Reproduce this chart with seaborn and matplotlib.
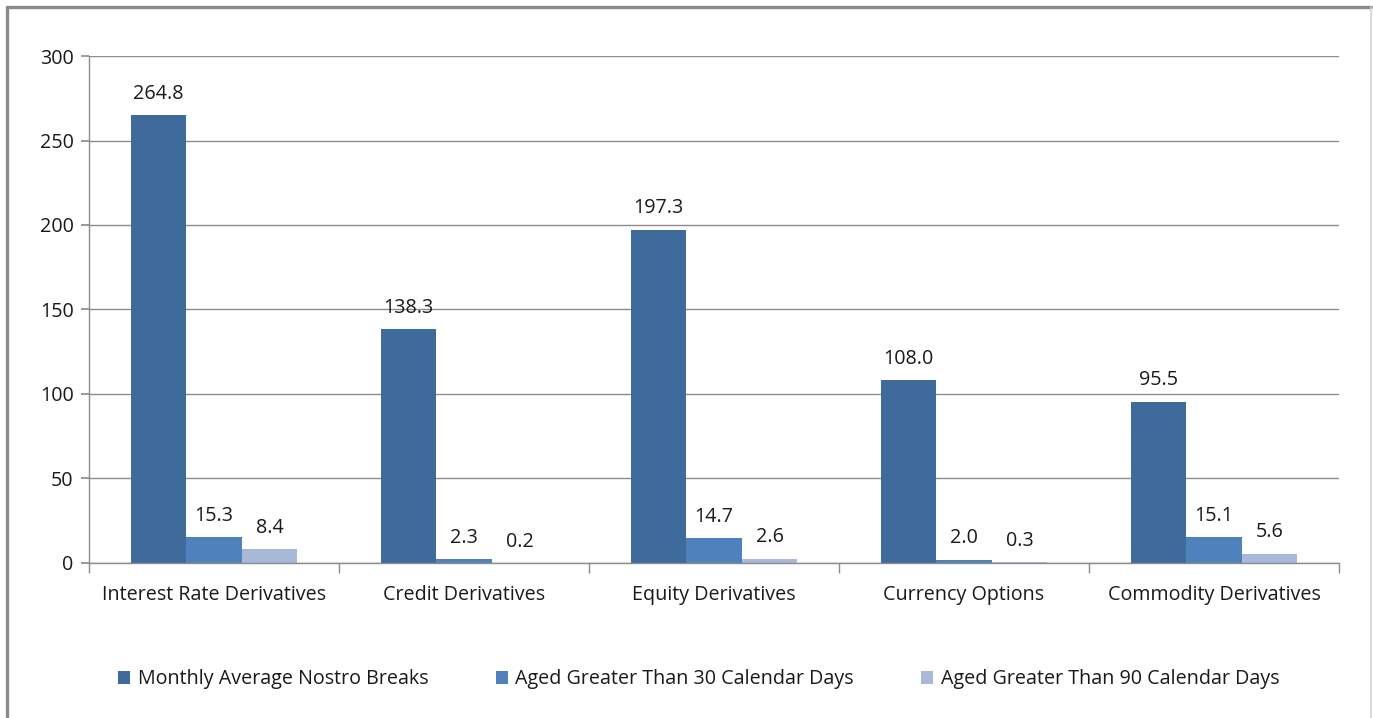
import matplotlib
matplotlib.use("Agg")
import matplotlib.pyplot as plt
import seaborn as sns
import pandas as pd
from matplotlib.lines import Line2D
from matplotlib.patches import Patch
from matplotlib.ticker import FixedLocator

categories = ["Interest Rate Derivatives", "Credit Derivatives", "Equity Derivatives",
              "Currency Options", "Commodity Derivatives"]
series_names = ["Monthly Average Nostro Breaks", "Aged Greater Than 30 Calendar Days",
                "Aged Greater Than 90 Calendar Days"]
monthly_avg = [264.8, 138.3, 197.3, 108.0, 95.5]
aged_30 = [15.3, 2.3, 14.7, 2.0, 15.1]
aged_90 = [8.4, 0.2, 2.6, 0.3, 5.6]
colors = ["#3F6A9C", "#4F81BD", "#A7B9D7"]

rows = []
for s, vals in zip(series_names, [monthly_avg, aged_30, aged_90]):
    for c, v in zip(categories, vals):
        rows.append({"category": c, "series": s, "value": v})
df = pd.DataFrame(rows)

sns.set_theme(style="white")
plt.rcParams['font.family'] = ['Open Sans', 'DejaVu Sans']
FS = 14.2
TXT = "#1a1a1a"

fig = plt.figure(figsize=(13.73, 7.18), dpi=100)
ax = fig.add_axes([0.0648, 0.2159, 0.9104, 0.7061])

sns.barplot(data=df, x="category", y="value", hue="series", palette=colors,
            width=0.667, saturation=1, ax=ax, legend=False, errorbar=None,
            linewidth=0, edgecolor="none")

for cont in ax.containers:
    ax.bar_label(cont, fmt="%.1f", padding=8, fontsize=FS, color=TXT)

ax.set_ylim(0, 300)
ax.set_xlim(-0.5, len(categories) - 0.5)
ax.set_yticks(range(0, 301, 50))
ax.yaxis.grid(True, color="#8C8C8C", linewidth=1)
ax.set_axisbelow(True)
ax.set_xlabel("")
ax.set_ylabel("")
for side in ["top", "right"]:
    ax.spines[side].set_visible(False)
for side in ["left", "bottom"]:
    ax.spines[side].set_color("#8C8C8C")
    ax.spines[side].set_linewidth(1)

ax.tick_params(axis="y", which="major", left=True, length=6, color="#8C8C8C",
               labelsize=FS, labelcolor=TXT, pad=5)
ax.tick_params(axis="x", which="major", bottom=False, labelsize=FS,
               labelcolor=TXT, pad=10)
ax.xaxis.set_minor_locator(FixedLocator([i - 0.5 for i in range(len(categories) + 1)]))
ax.tick_params(axis="x", which="minor", bottom=True, length=7, color="#8C8C8C")

handles = [Patch(facecolor=c, edgecolor="none") for c in colors]
fig.legend(handles, series_names, loc="center", bbox_to_anchor=(0.509, 0.054), ncol=3,
           frameon=False, fontsize=FS, handlelength=0.6, handleheight=0.6,
           handletextpad=0.4, columnspacing=3.4, labelcolor=TXT)

# chart frame
x0, x1 = 6.5 / 1373, 1371 / 1373
y1 = 1 - 6.5 / 718
fig.lines.append(Line2D([x0, x1], [y1, y1], transform=fig.transFigure,
                        color="#8A8A8A", linewidth=2.4))
fig.lines.append(Line2D([x0, x0], [0, y1], transform=fig.transFigure,
                        color="#8A8A8A", linewidth=2.4))
fig.lines.append(Line2D([x1, x1], [0, y1], transform=fig.transFigure,
                        color="#D4D4D4", linewidth=1.2))

fig.savefig("out.png", dpi=100)
